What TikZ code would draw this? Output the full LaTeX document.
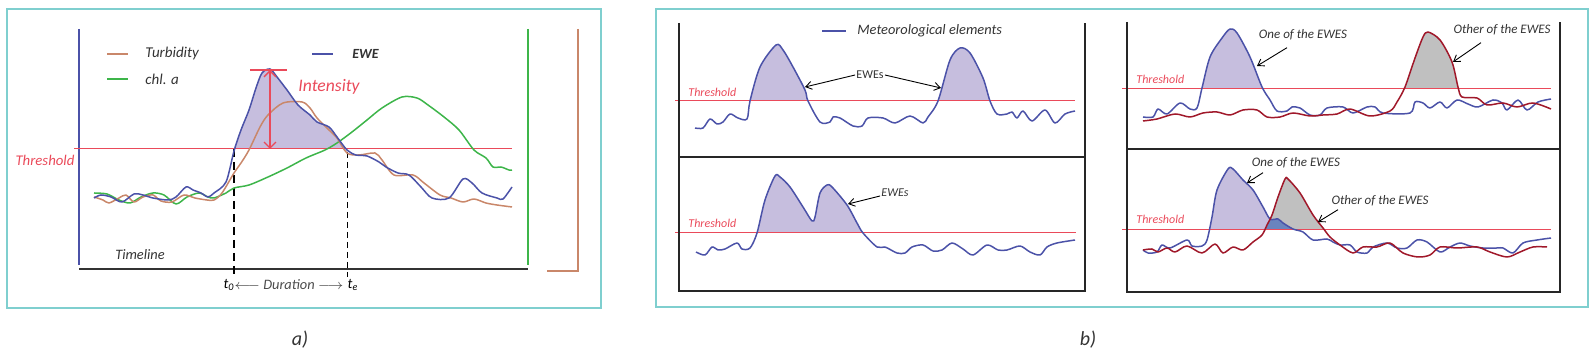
\documentclass[tikz,border=0pt]{standalone}
\usepackage{fontspec}
\setmainfont{Carlito}
\usetikzlibrary{arrows.meta, positioning}
\definecolor{framecol}{HTML}{7FCFCF}
\definecolor{ewecol}{HTML}{4B52A8}
\definecolor{turbcol}{HTML}{C9876A}
\definecolor{chlcol}{HTML}{3DB54A}
\definecolor{thrcol}{HTML}{EA4A5A}
\definecolor{fillcol}{HTML}{C6BEDE}
\definecolor{redcol}{HTML}{A0182A}
\definecolor{grayfill}{HTML}{C0C0C0}
\definecolor{overcol}{HTML}{6A84BE}
\definecolor{txtcol}{HTML}{333333}

% traces of panel b
\newcommand{\curveTL}{plot[smooth] coordinates {(695,128) (703,128) (710,119) (717,124) (723,122) (730,114) (738,118) (747,119) (750,101) (760,67) (776,45) (783,50) (793,67) (805,90) (808,101) (820,122) (830,122) (833,117) (840,118) (853,126) (862,126) (868,118) (883,118) (895,123) (910,116) (923,123) (928,117) (938,101) (950,60) (960,48) (970,53) (983,78) (990,101) (997,114) (1007,114) (1012,112) (1017,118) (1023,111) (1032,121) (1045,110) (1055,123) (1065,114) (1075,111)}}
\newcommand{\curveBL}{plot[smooth] coordinates {(696,252) (705,255) (712,247) (718,250) (725,249) (737,243) (742,249) (750,248) (757,233) (765,200) (775,176) (780,177) (790,187) (803,207) (812,221) (815,217) (820,193) (827,185) (832,187) (847,205) (857,223) (863,233) (877,247) (885,247) (897,253) (905,253) (912,247) (923,245) (933,251) (942,250) (952,243) (963,249) (973,255) (987,245) (998,250) (1007,250) (1020,246) (1030,252) (1040,255) (1047,247) (1057,243) (1075,240)}}
\newcommand{\blueTR}{plot[smooth] coordinates {(1143,117) (1153,117) (1158,109) (1167,114) (1180,103) (1190,109) (1197,108) (1202,88) (1210,57) (1222,38) (1230,29) (1237,33) (1250,57) (1262,87) (1270,100) (1277,111) (1287,111) (1292,107) (1300,108) (1310,115) (1320,115) (1327,108) (1343,107) (1353,113) (1367,107) (1375,107) (1383,113) (1410,113) (1415,102) (1423,103) (1430,108) (1440,102) (1447,108) (1457,100) (1468,104) (1478,107) (1493,100) (1502,103) (1507,110) (1518,100) (1527,110) (1538,102) (1551,99)}}
\newcommand{\redTR}{plot[smooth] coordinates {(1143,121) (1157,119) (1175,114) (1190,117) (1203,113) (1217,112) (1230,115) (1243,110) (1257,110) (1267,117) (1280,117) (1293,113) (1310,116) (1323,115) (1337,114) (1350,109) (1370,116) (1390,111) (1397,102) (1405,87) (1415,58) (1423,37) (1428,32) (1440,40) (1452,62) (1458,87) (1462,97) (1477,98) (1487,105) (1503,103) (1517,107) (1533,103) (1551,109)}}
\newcommand{\blueBR}{plot[smooth] coordinates {(1143,250) (1148,253) (1157,252) (1162,245) (1170,248) (1187,240) (1192,246) (1202,246) (1207,240) (1212,217) (1217,190) (1228,169) (1233,169) (1243,180) (1253,190) (1263,207) (1270,219) (1278,219) (1283,223) (1293,229) (1303,232) (1313,240) (1327,239) (1333,242) (1340,245) (1350,245) (1357,252) (1367,253) (1373,247) (1387,243) (1397,248) (1407,248) (1417,240) (1427,242) (1440,252) (1450,247) (1460,243) (1470,246) (1483,248) (1497,248) (1503,248) (1513,253) (1523,243) (1537,240) (1551,238)}}
\newcommand{\redBR}{plot[smooth] coordinates {(1143,250) (1152,249) (1158,252) (1167,248) (1175,252) (1187,246) (1202,253) (1215,244) (1223,253) (1233,247) (1243,250) (1253,242) (1262,235) (1267,225) (1272,215) (1278,197) (1285,179) (1288,179) (1300,193) (1313,215) (1323,228) (1330,237) (1340,245) (1353,253) (1363,247) (1377,247) (1390,243) (1403,253) (1418,257) (1430,255) (1440,247) (1457,248) (1477,247) (1490,252) (1507,257) (1520,252) (1533,247) (1547,247)}}

\begin{document}
\begin{tikzpicture}[x=0.5pt, y=-0.5pt,
  panelframe/.style={draw=framecol, line width=0.7pt},
  plotbox/.style={draw=black!85, line width=1.2pt},
  trace/.style={line width=0.75pt, line join=round},
  thresh/.style={draw=thrcol, line width=0.5pt},
  note/.style={font=\fontsize{6.5}{7}\selectfont\itshape, text=txtcol, inner sep=0.5pt},
  thrlabel/.style={font=\fontsize{6}{7}\selectfont\itshape, text=thrcol, inner sep=0.5pt},
  pointer/.style={-{Straight Barb[length=3pt, width=4pt]}, line width=0.45pt}
]
  \useasboundingbox (0,0) rectangle (1595,362);

  % ---- panel a ----
  \draw[panelframe] (7,9) rectangle (601,308);
  \fill[fillcol] plot[smooth] coordinates {(234,149) (241,130) (249,110) (256,88) (262,73) (270,69) (277,77) (287,90) (298,105) (310,115) (317,122) (329,127) (337,137) (346,149)} -- cycle;
  \draw[ewecol, line width=1.3pt] (79,29) -- (79,265);
  \draw[chlcol, line width=1.3pt] (528,29) -- (528,265);
  \draw[turbcol, line width=1.3pt] (578,29) -- (578,271) -- (547,271);
  \draw[black!80, line width=1.2pt] (79,269) -- (528,269);
  \draw[thresh] (74,149) -- (512,149);
  \draw[dash pattern=on 4pt off 2.5pt, line width=0.7pt] (234,149) -- (234,277);
  \draw[dash pattern=on 3pt off 2pt, line width=0.45pt] (347,152) -- (347,277);

  \draw[trace, chlcol] plot[smooth] coordinates {(94,193) (107,194) (119,200) (130,203) (141,197) (153,193) (164,195) (176,204) (187,197) (199,193) (208,197) (214,198) (226,193) (234,188) (249,185) (268,177) (287,168) (306,158) (325,150) (337,143) (352,132) (367,120) (382,108) (402,97) (417,98) (428,105) (444,117) (459,130) (474,150) (486,158) (493,167) (501,167) (509,170) (512,170)};
  \draw[trace, turbcol] plot[smooth] coordinates {(94,197) (103,200) (109,203) (119,198) (126,195) (134,202) (143,197) (153,195) (161,201) (172,202) (184,195) (195,198) (207,200) (214,200) (222,193) (234,173) (241,163) (249,150) (260,127) (268,115) (283,103) (302,102) (310,108) (317,118) (329,130) (337,138) (347,153) (359,155) (375,153) (382,160) (394,175) (413,175) (424,183) (440,195) (451,198) (463,202) (474,199) (486,203) (497,205) (512,207)};
  \draw[trace, ewecol] plot[smooth] coordinates {(94,198) (101,195) (111,197) (122,202) (134,194) (143,195) (153,198) (168,200) (176,197) (186,187) (193,190) (201,193) (208,197) (214,193) (226,182) (234,151) (241,130) (249,110) (256,88) (262,73) (270,69) (277,77) (287,90) (298,105) (310,115) (317,122) (329,127) (337,137) (347,150) (356,155) (367,156) (379,162) (386,167) (398,173) (409,175) (421,187) (432,198) (449,198) (463,179) (472,183) (482,193) (497,198) (503,199) (512,187)};

  \draw[thrcol, line width=0.9pt] (250,70) -- (287,70);
  \draw[thrcol, line width=0.7pt, {Straight Barb[length=3pt]}-{Straight Barb[length=3pt]}] (270,70) -- (270,149);

  % legend
  \draw[turbcol, line width=0.8pt] (107,54) -- (128,54) coordinate (turbkey);
  \draw[chlcol, line width=0.8pt] (107,79) -- (128,79) coordinate (chlkey);
  \draw[ewecol, line width=0.8pt] (312,54) -- (333,54) coordinate (ewekey);
  \node[note, font=\fontsize{7.5}{8}\selectfont\itshape, anchor=west, right=8pt of turbkey] (turbtxt) {Turbidity};
  \node[note, font=\fontsize{7.5}{8}\selectfont\itshape, anchor=west, right=8pt of chlkey] (chltxt) {chl. a};
  \node[note, font=\fontsize{7}{8}\selectfont\bfseries\itshape, anchor=west, right=9pt of ewekey] (ewetxt) {EWE};

  \node[thrlabel, font=\fontsize{7.4}{8}\selectfont\itshape] (thra) at (45,160) {Threshold};
  \node[thrlabel, font=\fontsize{8.8}{10}\selectfont\itshape] (intensity) at (329,87) {Intensity};
  \node[note, font=\fontsize{7.2}{8}\selectfont\itshape] (timeline) at (140,255) {Timeline};
  \node[note, font=\fontsize{7.2}{8}\selectfont\itshape, text=black] (tstart) at (229,285) {t\textsubscript{0}};
  \node[note, font=\fontsize{7.2}{8}\selectfont\itshape, text=black!70] (duration) at (289,285) {$\longleftarrow$ Duration $\longrightarrow$};
  \node[note, font=\fontsize{7.2}{8}\selectfont\itshape, text=black] (tend) at (353,285) {t\textsubscript{e}};

  \node[font=\fontsize{10}{12}\selectfont\itshape, text=txtcol] (capa) at (300,340) {a)};

  % ---- panel b ----
  \draw[panelframe] (656,9) rectangle (1588,307);

  % fills above the thresholds
  \begin{scope}
    \clip (679,23) rectangle (1085,101);
    \fill[fillcol] \curveTL -- cycle;
  \end{scope}
  \begin{scope}
    \clip (679,157) rectangle (1085,233);
    \fill[fillcol] \curveBL -- cycle;
  \end{scope}
  \begin{scope}
    \clip (1127,22) rectangle (1560,89);
    \fill[fillcol] \blueTR -- cycle;
    \fill[grayfill] \redTR -- cycle;
  \end{scope}
  \begin{scope}
    \clip (1127,149) rectangle (1560,230);
    \fill[fillcol] \blueBR -- cycle;
    \fill[grayfill] \redBR -- cycle;
  \end{scope}
  \begin{scope}
    \clip (1127,149) rectangle (1560,230);
    \clip \blueBR -- cycle;
    \fill[overcol] \redBR -- cycle;
  \end{scope}

  \draw[thresh] (675,101) -- (1075,101);
  \draw[thresh] (675,233) -- (1076,233);
  \draw[thresh] (1122,89) -- (1551,89);
  \draw[thresh] (1122,230) -- (1551,230);

  \draw[trace, ewecol] \curveTL;
  \draw[trace, ewecol] \curveBL;
  \draw[trace, ewecol] \blueTR;
  \draw[trace, redcol] \redTR;
  \draw[trace, ewecol] \blueBR;
  \draw[trace, redcol] \redBR;

  \draw[plotbox] (679,23) -- (679,291) -- (1085,291) -- (1085,23);
  \draw[plotbox] (679,157) -- (1085,157);
  \draw[plotbox] (1127,22) -- (1127,292) -- (1560,292) -- (1560,22);
  \draw[plotbox] (1127,149) -- (1560,149);

  % labels
  \draw[ewecol, line width=0.7pt] (822,31) -- (846,31) coordinate (metkey);
  \node[note, font=\fontsize{7.2}{8}\selectfont\itshape, anchor=west, right=5pt of metkey] (mettxt) {Meteorological elements};

  \node[thrlabel, anchor=west] (thrTL) at (687,92) {Threshold};
  \node[thrlabel, anchor=west] (thrBL) at (687,223) {Threshold};
  \node[thrlabel, anchor=west] (thrTR) at (1135,79) {Threshold};
  \node[thrlabel, anchor=west] (thrBR) at (1135,219) {Threshold};

  \node[note, font=\fontsize{6}{7}\selectfont] (ewesTL) at (870,75) {EWEs};
  \coordinate (tipTLa) at (805,87);
  \coordinate (tipTLb) at (941,88);
  \draw[pointer] (ewesTL.west) -- (tipTLa);
  \draw[pointer] (ewesTL.east) -- (tipTLb);

  \node[note, font=\fontsize{6}{7}\selectfont\itshape] (ewesBL) at (895,193) {EWEs};
  \coordinate (tipBL) at (848,204);
  \draw[pointer] ([yshift=-1.5pt]ewesBL.west) -- (tipBL);

  \node[note] (oneTR) at (1303,35) {One of the EWES};
  \node[note] (otherTR) at (1502,30) {Other of the EWES};
  \coordinate (tipOneTR) at (1257,66);
  \coordinate (tipOtherTR) at (1453,62);
  \draw[pointer] ([xshift=-8pt, yshift=-3pt]oneTR.south) -- (tipOneTR);
  \draw[pointer] ([xshift=-10.5pt, yshift=-3pt]otherTR.south) -- (tipOtherTR);

  \node[note] (oneBR) at (1296,163) {One of the EWES};
  \node[note] (otherBR) at (1380,201) {Other of the EWES};
  \coordinate (tipOneBR) at (1247,183);
  \coordinate (tipOtherBR) at (1318,222);
  \draw[pointer] ([xshift=-16.5pt, yshift=-1.5pt]oneBR.south) -- (tipOneBR);
  \draw[pointer] ([xshift=-21pt, yshift=-1pt]otherBR.south) -- (tipOtherBR);

  \node[font=\fontsize{10}{12}\selectfont\itshape, text=txtcol] (capb) at (1088,340) {b)};
\end{tikzpicture}
\end{document}
